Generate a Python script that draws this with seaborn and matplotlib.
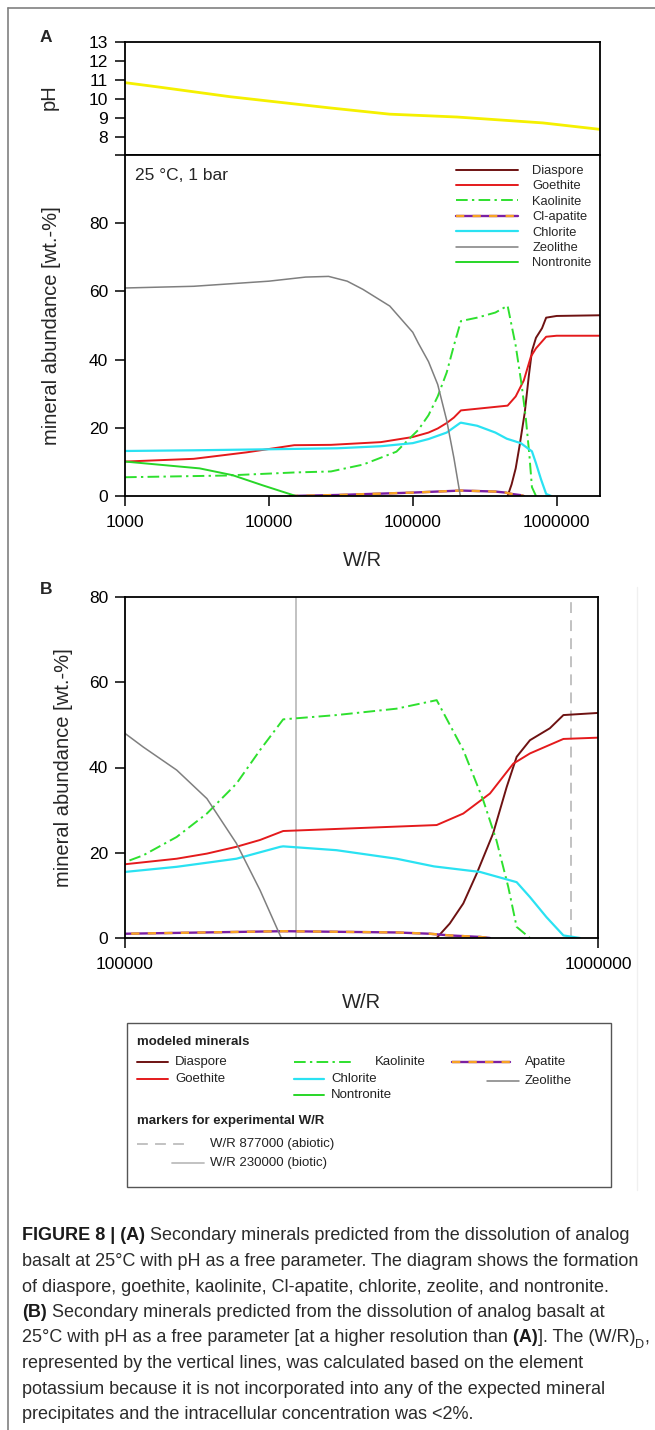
import matplotlib
matplotlib.use("Agg")
import matplotlib.pyplot as plt
from matplotlib import font_manager
from matplotlib.lines import Line2D
from matplotlib.patches import Rectangle
from matplotlib.ticker import FixedLocator, NullLocator, FuncFormatter
import pandas as pd
import seaborn as sns

# ---- data (W/R ratio vs. wt.-%) ----
ph_wr = [1000, 1750, 5360, 26500, 69000, 203000, 800000, 2000000]
ph_val = [10.86, 10.62, 10.12, 9.53, 9.2, 9.05, 8.74, 8.4]

diaspore_wr = [456000, 486000, 519000, 554000, 600000, 641000, 673000, 718000, 791000, 845000, 1000000, 2000000]
diaspore_wt = [0, 3.4, 8.1, 15.1, 24.5, 35.4, 42.5, 46.4, 49.2, 52.3, 52.8, 53.0]

goethite_wr = [1000, 3000, 7000, 15000, 27000, 60000, 100000, 128600, 149000, 172000, 193000, 216000,
               456000, 519000, 591000, 662000, 718000, 845000, 1000000, 2000000]
goethite_wt = [10.1, 10.9, 12.8, 14.9, 15.0, 15.8, 17.3, 18.6, 19.8, 21.4, 23.0, 25.1,
               26.5, 29.2, 33.9, 40.9, 43.3, 46.7, 47.0, 47.0]

kaolinite_wr = [1000, 5000, 15000, 27000, 45000, 77000, 100000, 109300, 128600, 149000, 172000, 193000,
                216000, 280000, 375000, 456000, 519000, 572000, 610000, 646000, 673000, 718000]
kaolinite_wt = [5.5, 6.0, 6.9, 7.2, 9.2, 13.0, 17.8, 19.4, 23.7, 29.2, 36.2, 44.1,
                51.3, 52.3, 53.8, 55.8, 44.1, 32.3, 22.9, 12.0, 2.6, 0]

apatite_wr = [14000, 30000, 60000, 100000, 216000, 375000, 441000, 486000, 563000, 591000]
apatite_wt = [0, 0.3, 0.7, 1.0, 1.6, 1.3, 1.0, 0.6, 0.25, 0]

chlorite_wr = [1000, 3000, 10000, 30000, 60000, 100000, 128600, 172000, 213000, 216000, 280000, 375000,
               450000, 563000, 673000, 718000, 778000, 845000, 916000]
chlorite_wt = [13.2, 13.4, 13.7, 14.0, 14.6, 15.5, 16.7, 18.6, 21.4, 21.5, 20.6, 18.6,
               16.8, 15.5, 13.1, 9.6, 4.9, 0.6, 0]

zeolithe_wr = [1000, 3000, 10000, 18000, 26000, 35000, 45000, 69200, 100000, 109300, 128600, 149000,
               172000, 193000, 214000]
zeolithe_wt = [61.0, 61.5, 63.0, 64.2, 64.4, 63.0, 60.6, 55.7, 48.0, 44.8, 39.4, 32.7, 22.2, 11.2, 0]

nontronite_wr = [1000, 3300, 5600, 9100, 15400]
nontronite_wt = [10.1, 8.1, 6.1, 3.1, 0]

marker_abiotic = 877000
marker_biotic = 230000

ticks_a = [1000, 10000, 100000, 1000000]
ticks_b = [100000, 1000000]
yticks_abund = [0, 20, 40, 60, 80, 100]
yticks_ph = [8, 9, 10, 11, 12, 13]

minerals = pd.concat([
    pd.DataFrame({"mineral": "Diaspore", "wr": diaspore_wr, "wt": diaspore_wt}),
    pd.DataFrame({"mineral": "Goethite", "wr": goethite_wr, "wt": goethite_wt}),
    pd.DataFrame({"mineral": "Kaolinite", "wr": kaolinite_wr, "wt": kaolinite_wt}),
    pd.DataFrame({"mineral": "Cl-apatite", "wr": apatite_wr, "wt": apatite_wt}),
    pd.DataFrame({"mineral": "Chlorite", "wr": chlorite_wr, "wt": chlorite_wt}),
    pd.DataFrame({"mineral": "Zeolithe", "wr": zeolithe_wr, "wt": zeolithe_wt}),
    pd.DataFrame({"mineral": "Nontronite", "wr": nontronite_wr, "wt": nontronite_wt}),
], ignore_index=True)
ph = pd.DataFrame({"wr": ph_wr, "ph": ph_val})

KAO_DASH = (0, (6, 2.2, 1.2, 2.2))
STYLE = {
    "Diaspore": dict(color="#6e1212", lw=1.4, ls="-"),
    "Goethite": dict(color="#e41a1c", lw=1.4, ls="-"),
    "Kaolinite": dict(color="#2ee02e", lw=1.4, ls=KAO_DASH),
    "Chlorite": dict(color="#2ae2f2", lw=1.6, ls="-"),
    "Zeolithe": dict(color="#7f7f7f", lw=1.1, ls="-"),
    "Nontronite": dict(color="#28d628", lw=1.4, ls="-"),
}
APA_PURPLE = dict(color="#7b1fa2", lw=1.7, ls="-")
APA_ORANGE = dict(color="#f7a325", lw=1.7, ls=(0, (3.5, 3.5)))
MARK_COLOR = "#bdbdbd"

sns.set_style("ticks")
installed = {f.name for f in font_manager.fontManager.ttflist}
BASE = ["Liberation Sans", "DejaVu Sans"]
NARROW = (["Liberation Sans Narrow"] + BASE) if "Liberation Sans Narrow" in installed else BASE
plt.rcParams["font.family"] = BASE
plt.rcParams["axes.linewidth"] = 1.3
plt.rcParams["axes.edgecolor"] = "black"

W, H = 655, 1430


def fx(px):
    return px / W


def fy(py):
    return 1 - py / H


def rect(left, top, right, bottom):
    return [fx(left), fy(bottom), (right - left) / W, (bottom - top) / H]


fig = plt.figure(figsize=(W / 100, H / 100), dpi=100)
ax_ph = fig.add_axes(rect(125, 42, 600, 155))
ax_a = fig.add_axes(rect(125, 155, 600, 496))
ax_b = fig.add_axes(rect(125, 597, 598, 938))

fmt = FuncFormatter(lambda v, p: f"{v:.0f}")


def draw_minerals(ax):
    for name, sub in minerals.groupby("mineral", sort=False):
        if name == "Cl-apatite":
            for st in (APA_PURPLE, APA_ORANGE):
                sns.lineplot(data=sub, x="wr", y="wt", ax=ax, estimator=None, sort=False,
                             color=st["color"], linewidth=st["lw"], linestyle=st["ls"])
            continue
        st = STYLE[name]
        sns.lineplot(data=sub, x="wr", y="wt", ax=ax, estimator=None, sort=False,
                     color=st["color"], linewidth=st["lw"], linestyle=st["ls"])


def style_axis(ax, xticks, xlim):
    ax.set_xscale("log")
    ax.set_xlim(*xlim)
    ax.xaxis.set_major_locator(FixedLocator(xticks))
    ax.xaxis.set_minor_locator(NullLocator())
    ax.xaxis.set_major_formatter(fmt)
    ax.tick_params(direction="out", length=7, width=1.1, labelsize=12.5, colors="black")
    ax.tick_params(axis="x", pad=7)
    ax.tick_params(axis="y", pad=5)
    for s in ax.spines.values():
        s.set_visible(True)
        s.set_linewidth(1.3)


# ---- panel A: pH ----
sns.lineplot(data=ph, x="wr", y="ph", ax=ax_ph, color="#f5f000", linewidth=2.0, estimator=None, sort=False)
style_axis(ax_ph, ticks_a, (1000, 2000000))
ax_ph.set_ylim(7.05, 13)
ax_ph.set_yticks(yticks_ph)
ax_ph.tick_params(axis="x", bottom=False, labelbottom=False)
ax_ph.set_xlabel("")
ax_ph.set_ylabel("pH", fontsize=14.5)
ax_ph.yaxis.set_label_coords(-0.16, 0.51)
ax_ph.yaxis.label.set_va("center")

# ---- panel A: minerals ----
draw_minerals(ax_a)
style_axis(ax_a, ticks_a, (1000, 2000000))
ax_a.set_ylim(0, 100)
ax_a.set_yticks(yticks_abund)
ax_a.set_yticklabels([str(v) if v < 100 else "" for v in yticks_abund])
ax_a.set_xlabel("W/R", fontsize=14.5)
ax_a.xaxis.set_label_coords(0.5, -0.188)
ax_a.xaxis.label.set_va("center")
ax_a.set_ylabel("mineral abundance [wt.-%]", fontsize=14.5)
ax_a.yaxis.set_label_coords(-0.154, 0.5)
ax_a.yaxis.label.set_va("center")
ax_a.text(0.021, 0.94, "25 °C, 1 bar", transform=ax_a.transAxes, fontsize=12.5, va="center", ha="left")

handles = []
labels = []
for name in ["Diaspore", "Goethite", "Kaolinite", "Cl-apatite", "Chlorite", "Zeolithe", "Nontronite"]:
    if name == "Cl-apatite":
        h = (Line2D([], [], color=APA_PURPLE["color"], lw=APA_PURPLE["lw"], ls=APA_PURPLE["ls"]),
             Line2D([], [], color=APA_ORANGE["color"], lw=APA_ORANGE["lw"], ls=APA_ORANGE["ls"]))
    else:
        st = STYLE[name]
        h = Line2D([], [], color=st["color"], lw=st["lw"], ls=st["ls"])
    handles.append(h)
    labels.append(name)
ax_a.legend(handles, labels, loc="upper left", bbox_to_anchor=(fx(456), fy(165)),
            bbox_transform=fig.transFigure, frameon=False, fontsize=9.3, handlelength=4.8,
            handletextpad=1.1, labelspacing=0.26, borderpad=0, borderaxespad=0)

# ---- panel B ----
draw_minerals(ax_b)
ax_b.axvline(marker_biotic, color=MARK_COLOR, lw=1.3, zorder=1)
ax_b.axvline(marker_abiotic, color=MARK_COLOR, lw=1.3, ls=(0, (6, 4)), zorder=1)
style_axis(ax_b, ticks_b, (100000, 1000000))
ax_b.set_ylim(0, 80)
ax_b.set_yticks([0, 20, 40, 60, 80])
ax_b.set_xlabel("W/R", fontsize=14.5)
ax_b.xaxis.set_label_coords(0.5, -0.189)
ax_b.xaxis.label.set_va("center")
ax_b.set_ylabel("mineral abundance [wt.-%]", fontsize=14.5)
ax_b.yaxis.set_label_coords(-0.131, 0.5)
ax_b.yaxis.label.set_va("center")

fig.text(fx(40), fy(37), "A", fontsize=12.5, fontweight="bold", ha="left", va="center")
fig.text(fx(40), fy(590), "B", fontsize=12.5, fontweight="bold", ha="left", va="center")

# ---- frame of the figure page ----
fig.add_artist(Line2D([fx(8), fx(8)], [fy(8), 0], color="#808080", lw=1.2, transform=fig.transFigure))
fig.add_artist(Line2D([fx(8), 1], [fy(8), fy(8)], color="#808080", lw=1.2, transform=fig.transFigure))
fig.add_artist(Line2D([fx(637), fx(637)], [fy(587), fy(1190)], color="#f0f0f0", lw=1.0,
                      transform=fig.transFigure))

# ---- bottom legend box ----
fig.add_artist(Rectangle((fx(127), fy(1187)), (611 - 127) / W, (1187 - 1023) / H, fill=False,
                         edgecolor="#555555", lw=1.0, transform=fig.transFigure))
LEG_FS = 9.5


def leg_line(x0, x1, y, **st):
    fig.add_artist(Line2D([fx(x0), fx(x1)], [fy(y), fy(y)], transform=fig.transFigure, **st))


def leg_text(x, y, s, bold=False):
    fig.text(fx(x), fy(y), s, fontsize=LEG_FS, fontweight="bold" if bold else "normal",
             ha="left", va="center", color="#222222")


def st_kw(st):
    return dict(color=st["color"], lw=st["lw"], ls=st["ls"])


leg_text(137, 1042, "modeled minerals", bold=True)
leg_line(137, 168, 1062, **st_kw(STYLE["Diaspore"]))
leg_text(175, 1062, "Diaspore")
leg_line(137, 168, 1079, **st_kw(STYLE["Goethite"]))
leg_text(175, 1079, "Goethite")
leg_line(294, 355, 1062, **st_kw(STYLE["Kaolinite"]))
leg_text(375, 1062, "Kaolinite")
leg_line(294, 324, 1079, **st_kw(STYLE["Chlorite"]))
leg_text(331, 1079, "Chlorite")
leg_line(294, 324, 1095, **st_kw(STYLE["Nontronite"]))
leg_text(331, 1095, "Nontronite")
leg_line(452, 510, 1062, **st_kw(APA_PURPLE))
leg_line(452, 510, 1062, **st_kw(APA_ORANGE))
leg_text(525, 1062, "Apatite")
leg_line(487, 519, 1081, **st_kw(STYLE["Zeolithe"]))
leg_text(525, 1081, "Zeolithe")
leg_text(137, 1121, "markers for experimental W/R", bold=True)
leg_line(137, 189, 1144, color=MARK_COLOR, lw=1.3, ls=(0, (6, 4)))
leg_text(210, 1144, "W/R 877000 (abiotic)")
leg_line(172, 204, 1163, color=MARK_COLOR, lw=1.3, ls="-")
leg_text(210, 1163, "W/R 230000 (biotic)")

# ---- caption ----
caption = [
    [("FIGURE 8 | (A)", "b"), (" Secondary minerals predicted from the dissolution of analog", "n")],
    [("basalt at 25°C with pH as a free parameter. The diagram shows the formation", "n")],
    [("of diaspore, goethite, kaolinite, Cl-apatite, chlorite, zeolite, and nontronite.", "n")],
    [("(B)", "b"), (" Secondary minerals predicted from the dissolution of analog basalt at", "n")],
    [("25°C with pH as a free parameter [at a higher resolution than", "n"), (" (A)", "b"),
     ("]. The (W/R)", "n"), ("D", "sub"), (",", "n")],
    [("represented by the vertical lines, was calculated based on the element", "n")],
    [("potassium because it is not incorporated into any of the expected mineral", "n")],
    [("precipitates and the intracellular concentration was <2%.", "n")],
]
renderer = fig.canvas.get_renderer()
probe = fig.text(0, 0, caption[1][0][0], fontsize=12, family=NARROW)
cap_fs = 12 * 620 / probe.get_window_extent(renderer).width
probe.remove()

for i, line in enumerate(caption):
    x = fx(22)
    base = 1240.5 + i * 25.5
    for text, kind in line:
        fs = cap_fs * 0.7 if kind == "sub" else cap_fs
        yy = base + (cap_fs * 0.3 * 100 / 72 if kind == "sub" else 0)
        t = fig.text(x, fy(yy), text, fontsize=fs, fontweight="bold" if kind == "b" else "normal",
                     family=NARROW, color="#1a1a1a" if kind == "b" else "#2b2b2b",
                     ha="left", va="baseline")
        x += t.get_window_extent(renderer).width / W

fig.savefig("out.png", dpi=100)
